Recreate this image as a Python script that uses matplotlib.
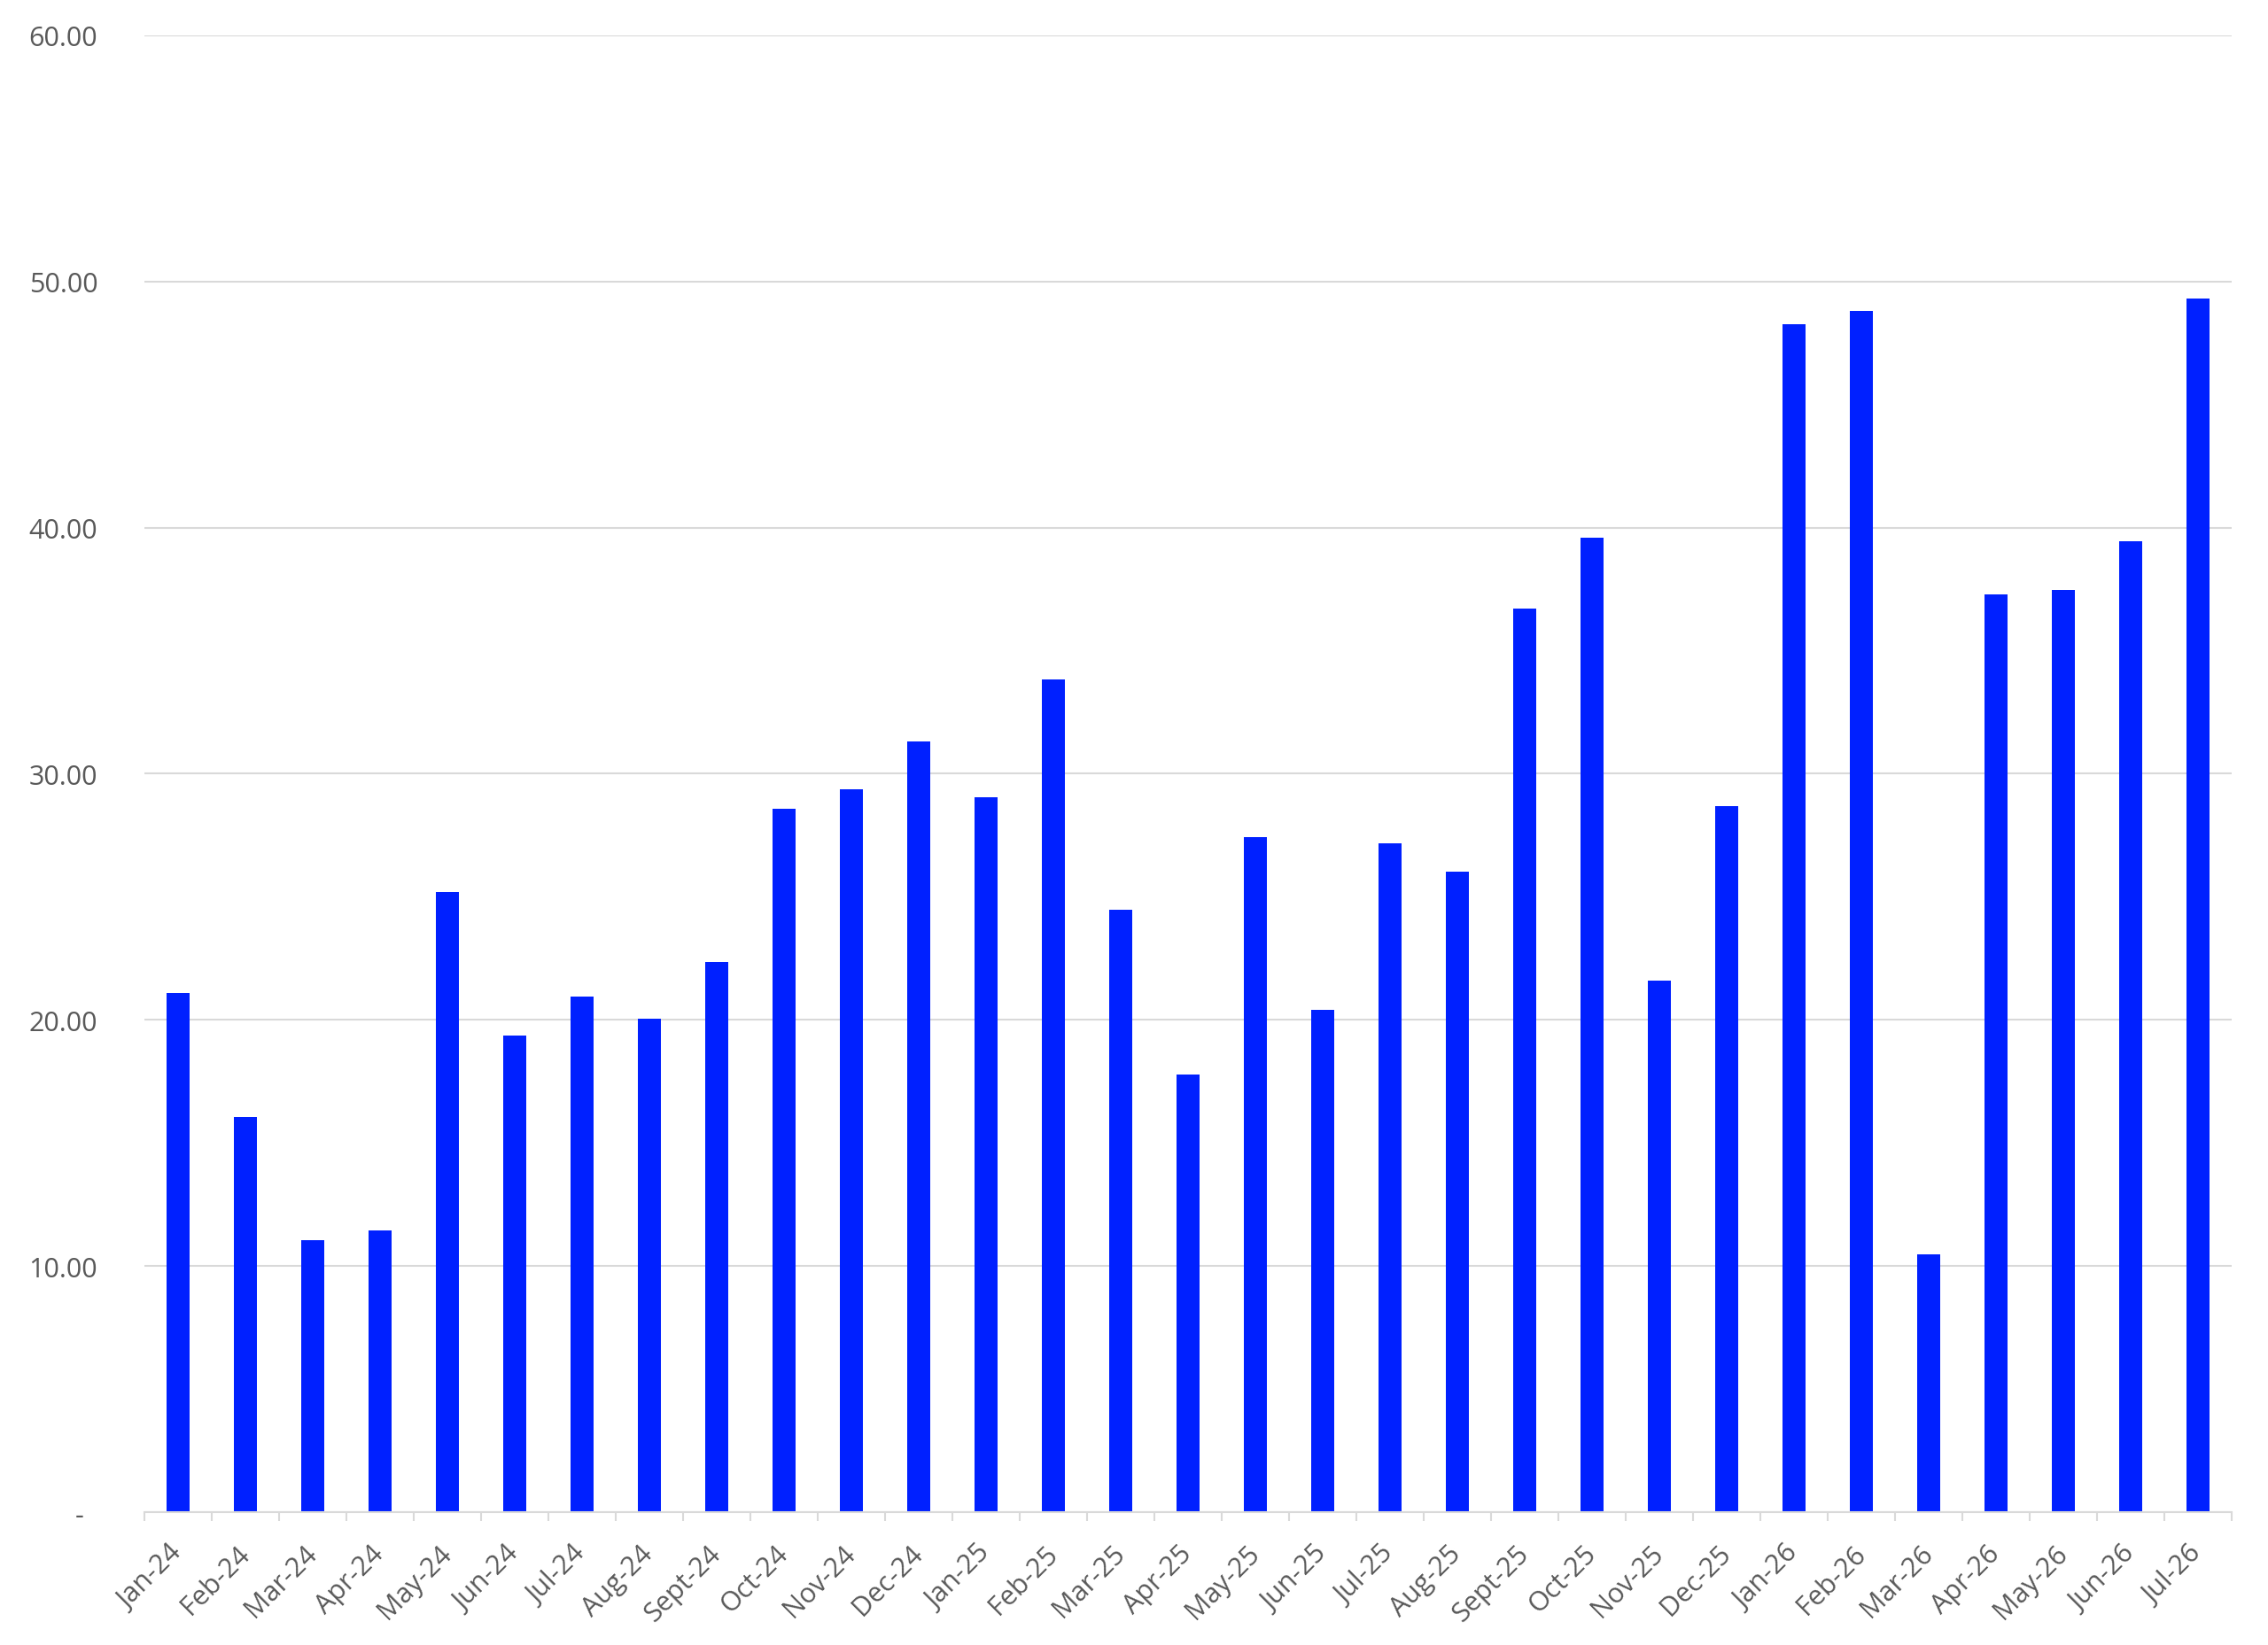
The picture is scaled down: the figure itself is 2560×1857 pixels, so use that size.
import matplotlib
matplotlib.use("Agg")
import matplotlib.pyplot as plt
from matplotlib.ticker import FixedLocator, FuncFormatter

# month labels and bar values
months = [
    "Jan-24", "Feb-24", "Mar-24", "Apr-24", "May-24", "Jun-24", "Jul-24",
    "Aug-24", "Sept-24", "Oct-24", "Nov-24", "Dec-24",
    "Jan-25", "Feb-25", "Mar-25", "Apr-25", "May-25", "Jun-25", "Jul-25",
    "Aug-25", "Sept-25", "Oct-25", "Nov-25", "Dec-25",
    "Jan-26", "Feb-26", "Mar-26", "Apr-26", "May-26", "Jun-26", "Jul-26",
]
values = [
    21.08, 16.04, 11.04, 11.45, 25.21, 19.37, 20.94,
    20.05, 22.34, 28.57, 29.36, 31.33,
    29.04, 33.83, 24.47, 17.78, 27.41, 20.40, 27.18,
    26.04, 36.71, 39.58, 21.61, 28.70,
    48.28, 48.79, 10.46, 37.30, 37.46, 39.45, 49.32,
]
y_ticks = [0, 10, 20, 30, 40, 50, 60]

BAR_COLOR = "#0020FF"
GRID_COLOR = "#D9D9D9"
TEXT_COLOR = "#595959"

plt.rcParams["font.family"] = ["Open Sans", "DejaVu Sans"]

fig = plt.figure(figsize=(25.6, 18.58), dpi=100)
ax = fig.add_axes([0.0637, 0.0807, 0.9203, 0.8973])

x = list(range(len(months)))
ax.bar(x, values, width=0.34, color=BAR_COLOR, zorder=3)

ax.set_xlim(-0.5, len(months) - 0.5)
ax.set_ylim(0, 60)

# y axis: Excel-style accounting labels, dash for zero
def yfmt(v, pos):
    if abs(v) < 1e-9:
        return "-  "
    return f"{v:.2f}"

ax.yaxis.set_major_locator(FixedLocator(y_ticks))
ax.yaxis.set_major_formatter(FuncFormatter(yfmt))
ax.tick_params(axis="y", length=0, pad=38, labelsize=22, labelcolor=TEXT_COLOR)
ax.grid(axis="y", color=GRID_COLOR, linewidth=1.5, zorder=0)
ax.set_axisbelow(True)

# x axis: labels centred on bars, small ticks between categories
ax.set_xticks(x)
ax.set_xticklabels(months, rotation=45, ha="right", va="center",
                   rotation_mode="anchor", fontsize=22, color=TEXT_COLOR)
ax.tick_params(axis="x", which="major", length=0, pad=30)
ax.set_xticks([i - 0.5 for i in range(len(months) + 1)], minor=True)
ax.tick_params(axis="x", which="minor", length=7, width=1.5, color=GRID_COLOR)

for side in ("top", "right", "left"):
    ax.spines[side].set_visible(False)
ax.spines["bottom"].set_color(GRID_COLOR)
ax.spines["bottom"].set_linewidth(1.5)
ax.spines["bottom"].set_zorder(4)

fig.savefig("out.png", dpi=100, facecolor="white")
